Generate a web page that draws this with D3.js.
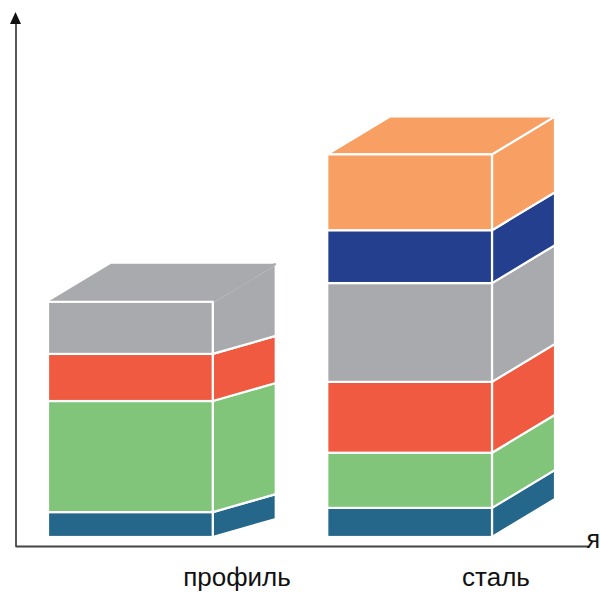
<!DOCTYPE html>
<html>
<head>
<meta charset="utf-8">
<script src="https://cdn.jsdelivr.net/npm/d3@7"></script>
<style>
  html, body { margin: 0; padding: 0; background: #ffffff; }
  svg { display: block; }
  text { font-family: "Liberation Sans", Arial, sans-serif; fill: #111; }
</style>
</head>
<body>
<svg id="chart" width="600" height="592"></svg>
<script>
// Categories along the horizontal axis
const categories = ["профиль", "сталь"];

// Stacked layers, bottom to top
const layerNames = ["base", "green", "red", "grey", "navy", "orange"];
const layerColors = ["#24678a", "#80c57a", "#f05a40", "#a9aaad", "#233f8d", "#f8a064"];

// Layer values for each category (same order as layerNames)
const valuesProfile = [6.5, 29.0, 12.3, 13.6, 0, 0];
const valuesSteel   = [7.6, 14.4, 18.5, 25.8, 13.8, 19.8];

// Axis title (only its last letter reaches into the canvas)
const axisTitle = "я";

const seriesValues = [valuesProfile, valuesSteel];

const svg = d3.select("#chart");

// Scales
const x = d3.scaleBand().domain(categories).range([48, 492]).paddingInner(0.41).paddingOuter(0);
const y = d3.scaleLinear().domain([0, 100]).range([537, 154]);
const labelX = d3.scalePoint().domain(categories).range([237, 496]);

// Perspective of each box: horizontal depth, slope of the side bands, slope of the top face
const depth = [
  { dx: 63, band: -18, top: -38, ridge: false },
  { dx: 63, band: -38, top: -38, ridge: true }
];

// Build stacked rows for d3.stack
const rows = categories.map((c, i) => {
  const r = { category: c };
  layerNames.forEach((k, j) => { r[k] = seriesValues[i][j]; });
  return r;
});
const stacked = d3.stack().keys(layerNames)(rows);

const bars = svg.append("g").attr("class", "bars");

categories.forEach((cat, ci) => {
  const g = bars.append("g");
  const x0 = x(cat), x1 = x0 + x.bandwidth();
  const p = depth[ci];
  const segs = stacked
    .map((s, li) => ({ li, lo: s[ci][0], hi: s[ci][1] }))
    .filter(d => d.hi - d.lo > 0);
  const topIdx = segs.length - 1;

  // Side faces
  segs.forEach((d, k) => {
    const yb = y(d.lo), yt = y(d.hi);
    const skewB = p.band;
    const skewT = k === topIdx ? p.top : p.band;
    g.append("path")
      .attr("d", d3.line()([[x1, yb], [x1 + p.dx, yb + skewB], [x1 + p.dx, yt + skewT], [x1, yt]]) + "Z")
      .attr("fill", layerColors[d.li])
      .attr("stroke", "#ffffff")
      .attr("stroke-width", 2.2)
      .attr("stroke-linejoin", "miter");
  });

  // Top face
  const top = segs[topIdx];
  const yt = y(top.hi);
  g.append("path")
    .attr("d", d3.line()([[x0, yt], [x0 + p.dx, yt + p.top], [x1 + p.dx, yt + p.top], [x1, yt]]) + "Z")
    .attr("fill", layerColors[top.li])
    .attr("stroke", p.ridge ? "#ffffff" : "none")
    .attr("stroke-width", 2.2);

  // Without a ridge the top face blends into the side face
  if (!p.ridge) {
    g.append("path")
      .attr("d", d3.line()([[x1, yt], [x1 + p.dx, yt + p.top]]))
      .attr("stroke", layerColors[top.li])
      .attr("stroke-width", 2.4)
      .attr("fill", "none");
  }

  // Front faces
  segs.forEach(d => {
    g.append("rect")
      .attr("x", x0)
      .attr("y", y(d.hi))
      .attr("width", x.bandwidth())
      .attr("height", y(d.lo) - y(d.hi))
      .attr("fill", layerColors[d.li])
      .attr("stroke", "#ffffff")
      .attr("stroke-width", 2.2);
  });
});

// Axes without ticks: only the domain lines
const xAxisScale = d3.scaleLinear().domain([0, 1]).range([15, 588]);
const yAxisScale = d3.scaleLinear().domain([0, 1]).range([546, 22]);

svg.append("g")
  .attr("transform", "translate(0,546)")
  .call(d3.axisBottom(xAxisScale).tickValues([]).tickSizeOuter(0))
  .select(".domain").attr("stroke", "#444").attr("stroke-width", 1.8);

svg.append("g")
  .attr("transform", "translate(15.5,0)")
  .call(d3.axisLeft(yAxisScale).tickValues([]).tickSizeOuter(0))
  .select(".domain").attr("stroke", "#444").attr("stroke-width", 1.8);

// Arrow head on the vertical axis
svg.append("path")
  .attr("d", d3.line()([[15.5, 12], [21, 24], [10, 24]]) + "Z")
  .attr("fill", "#111");

// Category labels
svg.append("g").selectAll("text")
  .data(categories)
  .join("text")
  .attr("x", d => labelX(d))
  .attr("y", 586)
  .attr("text-anchor", "middle")
  .attr("font-size", 26)
  .text(d => d);

// Axis title at the right edge
svg.append("text")
  .attr("x", 600)
  .attr("y", 548)
  .attr("text-anchor", "end")
  .attr("font-size", 25)
  .text(axisTitle);
</script>
</body>
</html>
